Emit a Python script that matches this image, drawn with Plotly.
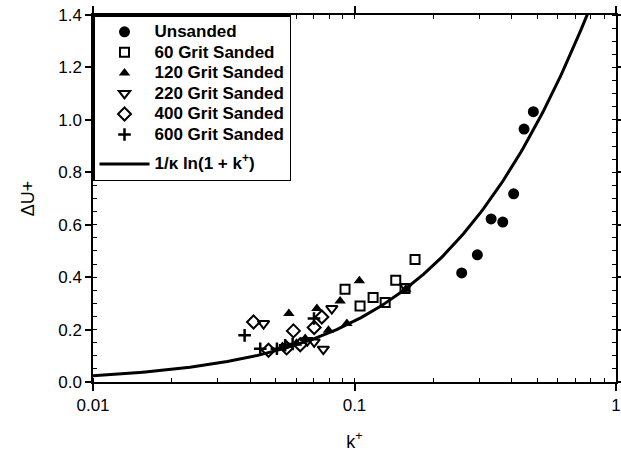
import numpy as np
import plotly.graph_objects as go

KAPPA = 0.41

unsanded_k = [0.483, 0.445, 0.406, 0.333, 0.369, 0.295, 0.257]
unsanded_du = [1.031, 0.965, 0.718, 0.622, 0.610, 0.485, 0.416]

g60_k = [0.1704, 0.092, 0.1438, 0.1178, 0.105, 0.131, 0.156]
g60_du = [0.467, 0.354, 0.388, 0.322, 0.290, 0.303, 0.357]

g120_k = [0.1044, 0.0881, 0.157, 0.0561, 0.0718, 0.0795, 0.0935, 0.0648, 0.053, 0.060]
g120_du = [0.386, 0.309, 0.354, 0.261, 0.280, 0.197, 0.223, 0.166, 0.135, 0.148]

g220_k = [0.0449, 0.076, 0.0701, 0.0819, 0.157, 0.066]
g220_du = [0.223, 0.125, 0.153, 0.280, 0.363, 0.158]

g400_k = [0.0411, 0.0584, 0.0701, 0.0750, 0.0469, 0.055, 0.062]
g400_du = [0.229, 0.195, 0.208, 0.248, 0.121, 0.130, 0.142]

g600_k = [0.0436, 0.0505, 0.0543, 0.0380, 0.070, 0.058]
g600_du = [0.127, 0.127, 0.140, 0.178, 0.242, 0.145]

curve_k = np.logspace(-2, np.log10(0.78), 200)
curve_du = np.log(1 + curve_k) / KAPPA

x_tickvals = [0.01, 0.1, 1]
x_ticktext = ["0.01", "0.1", "1"]
y_tickvals = [0.0, 0.2, 0.4, 0.6, 0.8, 1.0, 1.2, 1.4]
y_ticktext = ["0.0", "0.2", "0.4", "0.6", "0.8", "1.0", "1.2", "1.4"]

fig = go.Figure()


def lbl(t):
    return '<span style="font-size:17px">' + t + '</span>'


def add(k, du, name, symbol, size, lw=2):
    fig.add_trace(go.Scatter(
        x=k, y=du, mode="markers", name=lbl(name), legendgroup="pts",
        marker=dict(symbol=symbol, size=size, color="black",
                    line=dict(color="black", width=lw)),
    ))


add(unsanded_k, unsanded_du, "Unsanded", "circle", 11, 0)
add(g60_k, g60_du, "60 Grit Sanded", "square-open", 9)
add(g120_k, g120_du, "120 Grit Sanded", "triangle-up", 10, 0)
add(g220_k, g220_du, "220 Grit Sanded", "triangle-down-open", 10)
add(g400_k, g400_du, "400 Grit Sanded", "diamond-open", 10)
add(g600_k, g600_du, "600 Grit Sanded", "cross-thin-open", 9, 2.5)

fig.add_trace(go.Scatter(
    x=curve_k, y=curve_du, mode="lines", name=lbl("1/κ ln(1 + k<sup>+</sup>)"),
    legendgroup="line", line=dict(color="black", width=3),
))

font_family = "Liberation Sans, Arial, sans-serif"

fig.update_layout(
    width=621, height=462,
    margin=dict(l=93, r=5, t=15, b=80),
    paper_bgcolor="white", plot_bgcolor="white",
    font=dict(family=font_family, color="black", size=17),
    legend=dict(
        x=0, y=1, xanchor="left", yanchor="top",
        bordercolor="black", borderwidth=1.5, bgcolor="white",
        font=dict(family=font_family, size=13.5, color="black", weight="bold"),
        tracegroupgap=9, traceorder="grouped",
        itemwidth=50,
    ),
    xaxis=dict(
        type="log", range=[-2, 0], automargin=False,
        ticklabeloverflow="allow",
        tickvals=x_tickvals, ticktext=x_ticktext,
        ticks="outside", ticklen=7, tickwidth=1.5, tickcolor="black",
        showline=True, linecolor="black", linewidth=1.5, mirror="ticks",
        showgrid=False, zeroline=False,
        minor=dict(ticks="inside", ticklen=4, tickwidth=1, tickcolor="black",
                   showgrid=False, dtick="D1"),
        tickfont=dict(size=17),
        title=dict(text="k<sup>+</sup>", font=dict(size=18), standoff=21),
    ),
    yaxis=dict(
        range=[0, 1.4], automargin=False,
        ticklabeloverflow="allow",
        tickvals=y_tickvals, ticktext=y_ticktext,
        ticks="outside", ticklen=6, tickwidth=1.5, tickcolor="black",
        showline=True, linecolor="black", linewidth=1.5, mirror="ticks",
        showgrid=False, zeroline=False,
        minor=dict(ticks="inside", ticklen=4, tickwidth=1, tickcolor="black",
                   showgrid=False, dtick=0.05),
        tickfont=dict(size=17),
        title=dict(text="ΔU+", font=dict(size=18), standoff=19),
    ),
)

# remove the default page margin so the figure fills the window exactly
fig.write_html(
    "out.html",
    config={"displayModeBar": False},
    post_script="document.body.style.margin='0';"
                "document.documentElement.style.overflow='hidden';",
)
